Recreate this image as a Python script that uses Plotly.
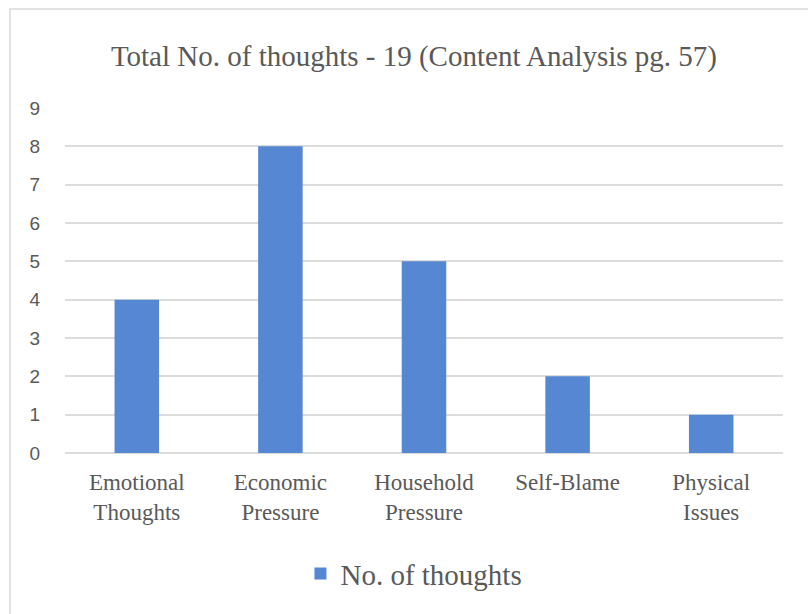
import plotly.graph_objects as go

categories = ["Emotional<br>Thoughts", "Economic<br>Pressure", "Household<br>Pressure", "Self-Blame", "Physical<br>Issues"]
values = [4, 8, 5, 2, 1]
series_name = "No. of thoughts"
title_text = "Total No. of thoughts - 19 (Content Analysis pg. 57)"

serif = "Liberation Serif, Times New Roman, serif"
sans = "Liberation Sans, Arial, sans-serif"
grey = "#595959"

fig = go.Figure()
fig.add_trace(go.Bar(x=categories, y=values, name=series_name,
                     marker=dict(color="#5587D2", line=dict(width=0)),
                     width=0.31, showlegend=True))

fig.update_layout(
    width=808, height=614,
    margin=dict(l=65, r=25, t=108, b=161),
    paper_bgcolor="white", plot_bgcolor="white",
    title=dict(text=title_text, x=0.486, xref="paper", xanchor="center",
               y=1 - 56 / 614, yref="container", yanchor="middle",
               font=dict(family=serif, size=29, color=grey)),
    showlegend=True,
    legend=dict(orientation="h", x=0.486, xanchor="center", y=-0.35, yanchor="middle",
                font=dict(family=serif, size=29, color=grey), itemwidth=30),
    bargap=0.69,
)
fig.update_xaxes(showgrid=False, showline=False, ticks="", ticklabelstandoff=13,
                 tickfont=dict(family=serif, size=23, color=grey))
fig.update_yaxes(range=[0, 9], dtick=1, showgrid=True, gridcolor="#dcdcdc", gridwidth=1.5,
                 zeroline=True, zerolinecolor="#dcdcdc", zerolinewidth=1.5,
                 showline=False, ticks="", ticklabelstandoff=24,
                 tickfont=dict(family=sans, size=19, color=grey))
fig.add_shape(type="rect", xref="paper", yref="paper",
              x0=(10 - 65) / 718, x1=1.2, y0=-0.6, y1=(453 - 9) / 345,
              line=dict(color="#d9d9d9", width=1.5), fillcolor="rgba(0,0,0,0)", layer="below")

fig.write_html("out.html")
